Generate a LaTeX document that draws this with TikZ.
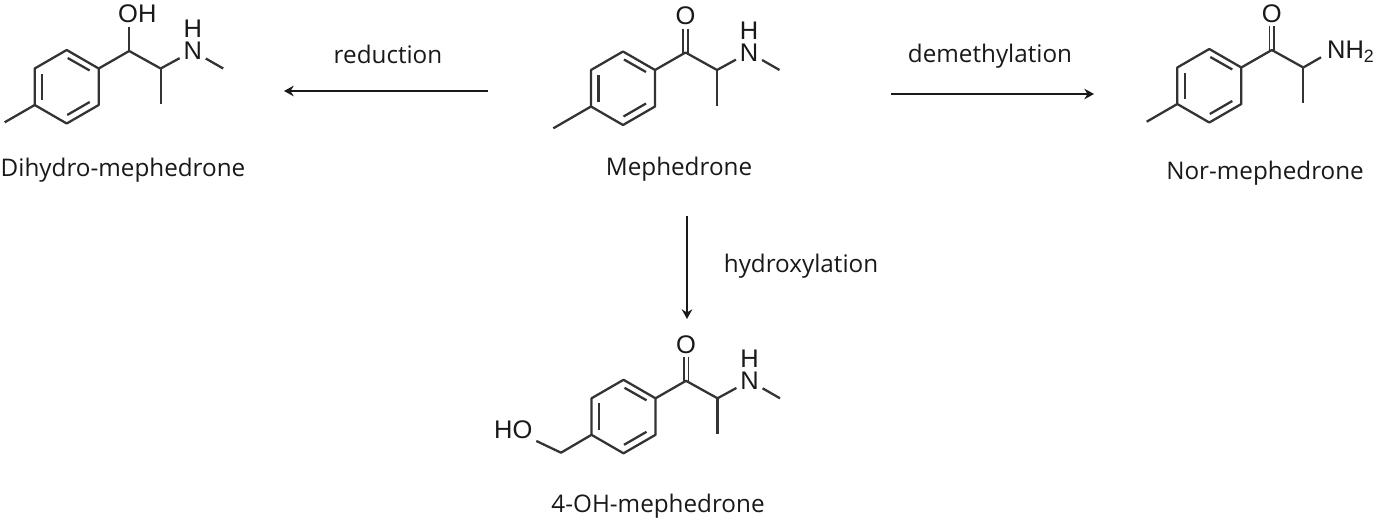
\documentclass[tikz,border=0pt]{standalone}
\usepackage{fontspec}
\setmainfont{Open Sans}
\newfontfamily\atomfont{Liberation Sans}
\usetikzlibrary{arrows.meta}
\definecolor{bondgray}{HTML}{333333}
\tikzset{
  bond/.style={bondgray, line width=1.3pt},
  dblbond/.style={bond, line width=1pt, double, double distance=1.7pt},
  rxnarrow/.style={black!90, line width=1pt, -{Stealth[length=5.5pt,width=6pt]}},
  atom/.style={text=black!90, font=\atomfont\fontsize{14.5}{14.5}\selectfont, inner sep=2pt},
  cmpdname/.style={text=black!90, font=\fontsize{13.8}{15}\selectfont, inner sep=0pt},
  rxnname/.style={text=black!90, font=\fontsize{13.8}{15}\selectfont, inner sep=0pt},
  tolyl/.pic={
    \coordinate (a1) at (0,-36.5);
    \coordinate (a2) at (32,-18);
    \coordinate (a3) at (32,18.5);
    \coordinate (a4) at (0,37);
    \coordinate (a5) at (-32,18.5);
    \coordinate (a6) at (-32,-18);
    \draw[bond, line join=round] (a1)--(a2)--(a3)--(a4)--(a5)--(a6)--cycle;
    \draw[bond] (1,-28.5)--(23,-16);
    \draw[bond] (23,15.5)--(0.5,28.5);
    \draw[bond] (-24.5,-13)--(-24.5,13.5);
    \coordinate (c) at (62.5,-35.5);
    \coordinate (ca) at (94,-18);
    \coordinate (me) at (94,17.5);
    \draw[bond] (ca)--(me);
  },
  ketone/.pic={
    \node[atom] (o) at (62.5,-72) {O};
    \draw[dblbond] (c)--(o);
    \draw[bond, line join=round] (a2)--(c)--(ca);
  },
  namine/.pic={
    \node[atom, inner ysep=0.5pt] (n) at (126,-35.5) {N};
    \node[atom, inner sep=0pt] (h) at (126,-57.5) {H};
    \coordinate (t) at (156.5,-18);
    \draw[bond] (ca)--(n);
    \draw[bond] (n)--(t);
  }
}
\begin{document}
\begin{tikzpicture}[x=0.02cm, y=-0.02cm]
\useasboundingbox (0,0) rectangle (1375,521);
% mephedrone
\begin{scope}[shift={(623,88)}, name prefix=meph-]
  \pic {tolyl}; \pic {ketone}; \pic {namine};
  \coordinate (tail) at (-69.7,40.3);
  \draw[bond] (a5)--(tail);
\end{scope}
\node[cmpdname] (mephname) at (679,169) {Mephedrone};
% dihydro
\begin{scope}[shift={(66.7,86.5)}, name prefix=dihy-]
  \pic {tolyl}; \pic {namine};
  \node[atom] (oh) at (70.6,-72.5) {OH};
  \draw[bond] (c)--(c |- oh.south);
  \draw[bond, line join=round] (a2)--(c)--(ca);
  \coordinate (tail) at (-62,35.8);
  \draw[bond] (a5)--(tail);
\end{scope}
\node[cmpdname] (dihyname) at (123,170) {Dihydro-mephedrone};
% nor
\begin{scope}[shift={(1209.3,85.5)}, name prefix=nor-]
  \pic {tolyl}; \pic {ketone};
  \node[atom, inner sep=0pt, anchor=west] (nh) at (117.5,-33.5) {NH\textsubscript{2}};
  \coordinate (nhend) at (111.7,-28.2);
  \draw[bond] (ca)--(nhend);
  \coordinate (tail) at (-62.6,36.2);
  \draw[bond] (a5)--(tail);
\end{scope}
\node[cmpdname] (norname) at (1265,173) {Nor-mephedrone};
% 4-OH
\begin{scope}[shift={(623.5,416.3)}, name prefix=hydr-]
  \pic {tolyl}; \pic {ketone}; \pic {namine};
  \coordinate (ch) at (-62.5,36.4);
  \node[atom] (ho) at (-110.2,13.7) {HO};
  \draw[bond, line join=round] (a5)--(ch)--(ho);
\end{scope}
\node[cmpdname] (hydrname) at (658,506) {4-OH-mephedrone};
% arrows
\coordinate (redstart) at (488,91);
\coordinate (redend) at (284,91);
\coordinate (demstart) at (891,94);
\coordinate (demend) at (1094,94);
\coordinate (hydstart) at (687,216);
\coordinate (hydend) at (687,319);
\draw[rxnarrow] (redstart)--(redend);
\draw[rxnarrow] (demstart)--(demend);
\draw[rxnarrow] (hydstart)--(hydend);
\node[rxnname] (redname) at (388,54) {reduction};
\node[rxnname] (demname) at (990,56) {demethylation};
\node[rxnname] (hydname) at (801,266) {hydroxylation};
\end{tikzpicture}
\end{document}
